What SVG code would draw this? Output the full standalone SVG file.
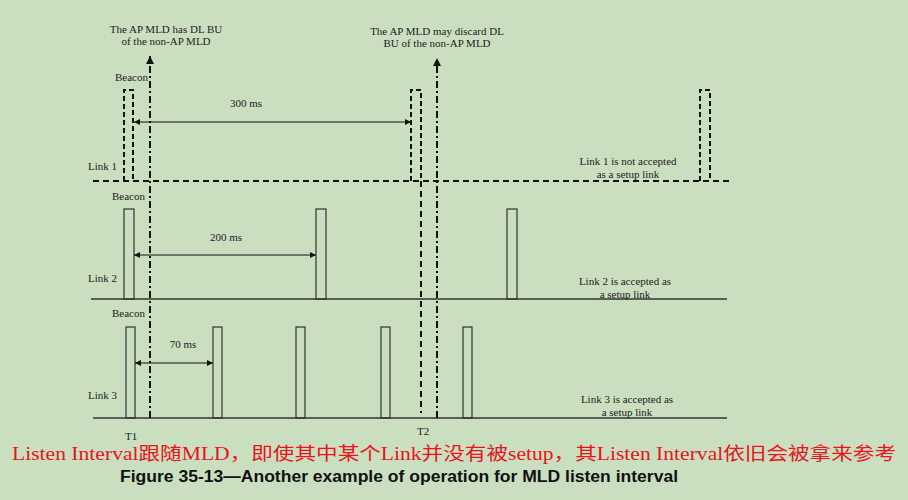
<svg xmlns="http://www.w3.org/2000/svg" width="908" height="500" viewBox="0 0 908 500">
<style>
.t{font-family:"Liberation Serif","Times New Roman",serif;font-size:11px;fill:#222}
.tm{text-anchor:middle}
.base{stroke:#333;stroke-width:1.3;fill:none}
.dash{stroke:#111;stroke-width:2;fill:none;stroke-dasharray:6,4}
.pulse{stroke:#333;stroke-width:1.2;fill:none}
.dpulse{stroke:#111;stroke-width:2;fill:none;stroke-dasharray:5,3}
.dd{stroke:#111;stroke-width:2;fill:none;stroke-dasharray:7,3,2,3}
.arr{stroke:#111;stroke-width:1;fill:none;marker-start:url(#ah);marker-end:url(#ah)}
</style>
<defs>
<marker id="ah" viewBox="0 0 10 10" refX="10" refY="5" markerWidth="8" markerHeight="6" orient="auto-start-reverse" markerUnits="userSpaceOnUse"><path d="M0,0L10,5L0,10z" fill="#111"/></marker>
<marker id="up" viewBox="0 0 10 10" refX="10" refY="5" markerWidth="10" markerHeight="8" orient="auto" markerUnits="userSpaceOnUse"><path d="M0,0L10,5L0,10z" fill="#111"/></marker>
</defs>
<rect width="908" height="500" fill="#c9dfc0"/>

<g id="link1">
<path class="dash" d="M93,181H732"/>
<path class="dpulse" d="M124,181V90H133V181"/>
<path class="dpulse" d="M411,181V90H421V181"/>
<path class="dpulse" d="M700,181V90H710V181"/>
<text class="t" x="115" y="81">Beacon</text>
<text class="t" x="88" y="170">Link 1</text>
<text class="t tm" x="628" y="165">Link 1 is not accepted</text>
<text class="t tm" x="628" y="178">as a setup link</text>
<text class="t tm" x="246" y="107">300 ms</text>
</g>

<g id="link2">
<path class="base" d="M91,299H727"/>
<rect class="pulse" x="124" y="209" width="10" height="90"/>
<rect class="pulse" x="316" y="209" width="10" height="90"/>
<rect class="pulse" x="507" y="209" width="10" height="90"/>
<text class="t" x="112" y="200">Beacon</text>
<text class="t" x="88" y="282">Link 2</text>
<text class="t tm" x="625" y="285">Link 2 is accepted as</text>
<text class="t tm" x="625" y="298">a setup link</text>
<text class="t tm" x="226" y="241">200 ms</text>
</g>

<g id="link3">
<path class="base" d="M93,418H727"/>
<rect class="pulse" x="126" y="327" width="9" height="91"/>
<rect class="pulse" x="213" y="327" width="9" height="91"/>
<rect class="pulse" x="296" y="327" width="9" height="91"/>
<rect class="pulse" x="381" y="327" width="9" height="91"/>
<rect class="pulse" x="463" y="327" width="9" height="91"/>
<text class="t" x="112" y="317">Beacon</text>
<text class="t" x="88" y="399">Link 3</text>
<text class="t tm" x="627" y="403">Link 3 is accepted as</text>
<text class="t tm" x="627" y="416">a setup link</text>
<text class="t tm" x="183" y="348">70 ms</text>
<text class="t" x="125" y="440">T1</text>
<text class="t" x="417" y="435">T2</text>
</g>

<g id="t1">
<text class="t tm" x="166" y="33">The AP MLD has DL BU</text>
<text class="t tm" x="166" y="45">of the non-AP MLD</text>
</g>
<g id="t2">
<text class="t tm" x="437" y="35">The AP MLD may discard DL</text>
<text class="t tm" x="437" y="47">BU of the non-AP MLD</text>
</g>

<g id="connectors">
<path class="dd" d="M150,418V56" marker-end="url(#up)"/>
<path class="dd" d="M437,418V58" marker-end="url(#up)"/>
<path class="dash" d="M421,181V413" stroke-dasharray="7,4"/>
<path class="arr" d="M134,122H411"/>
<path class="arr" d="M134,255H316"/>
<path class="arr" d="M135,363H213"/>
</g>

<text x="454" y="460" text-anchor="middle" font-family="'Liberation Serif','Noto Sans CJK SC',serif" font-size="18" fill="#e8141c" textLength="884" lengthAdjust="spacingAndGlyphs">Listen Interval跟随MLD，即使其中某个Link并没有被setup，其Listen Interval依旧会被拿来参考</text>
<text x="120" y="482" font-family="'Liberation Sans',Arial,sans-serif" font-size="16" font-weight="bold" fill="#111" textLength="558" lengthAdjust="spacingAndGlyphs">Figure 35-13—Another example of operation for MLD listen interval</text>
</svg>
